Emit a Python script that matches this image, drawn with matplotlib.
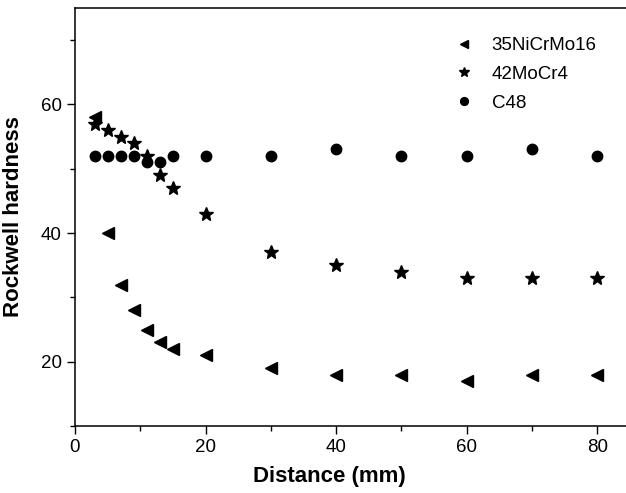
import matplotlib
matplotlib.use("Agg")
import matplotlib.pyplot as plt
from matplotlib.ticker import MultipleLocator

plt.rcParams['font.family'] = ['Liberation Sans', 'DejaVu Sans']

distance = [3, 5, 7, 9, 11, 13, 15, 20, 30, 40, 50, 60, 70, 80]
ni_cr_mo16 = [58, 40, 32, 28, 25, 23, 22, 21, 19, 18, 18, 17, 18, 18]
mo_cr4 = [57, 56, 55, 54, 52, 49, 47, 43, 37, 35, 34, 33, 33, 33]
c48 = [52, 52, 52, 52, 51, 51, 52, 52, 52, 53, 52, 52, 53, 52]
labels = ['35NiCrMo16', '42MoCr4', 'C48']

fig = plt.figure(figsize=(6.26, 4.93), dpi=100)
ax = fig.add_axes([75/626, 67/493, 555/626, 418/493])

ax.plot(distance, ni_cr_mo16, linestyle='none', marker='<', markersize=8, color='black', label=labels[0])
ax.plot(distance, mo_cr4, linestyle='none', marker='*', markersize=10, color='black', label=labels[1])
ax.plot(distance, c48, linestyle='none', marker='o', markersize=7.5, color='black', label=labels[2])

ax.set_xlim(0, 85)
ax.set_ylim(10, 75)
ax.xaxis.set_major_locator(MultipleLocator(20))
ax.xaxis.set_minor_locator(MultipleLocator(10))
ax.yaxis.set_major_locator(MultipleLocator(20))
ax.yaxis.set_minor_locator(MultipleLocator(10))
ax.set_yticks([20, 40, 60])
ax.tick_params(which='major', direction='out', length=6, width=1, labelsize=13.5)
ax.tick_params(which='minor', direction='out', length=3.5, width=1)
for s in ax.spines.values():
    s.set_linewidth(1.1)
ax.spines['right'].set_visible(False)

ax.set_xlabel('Distance (mm)', fontsize=16, fontweight='bold')
ax.set_ylabel('Rockwell hardness', fontsize=16, fontweight='bold')
ax.xaxis.set_label_coords((329 - 75) / 555, -0.095)
ax.yaxis.set_label_coords(-0.092, 0.5)

leg = ax.legend(loc='upper left', bbox_to_anchor=(0.653, 0.971), frameon=False,
                fontsize=13.5, markerscale=0.75, handletextpad=1.0, labelspacing=0.63,
                handlelength=1.0)

fig.savefig('out.png', dpi=100)
